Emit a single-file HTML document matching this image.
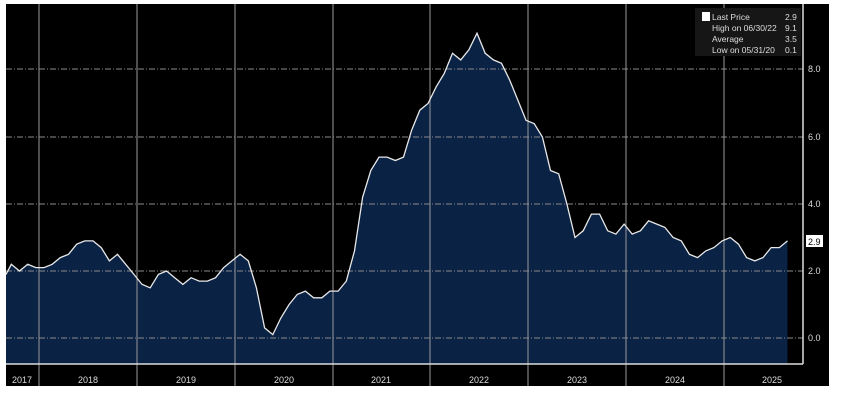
<!DOCTYPE html>
<html><head><meta charset="utf-8"><style>
body{margin:0;background:#fff;width:841px;height:409px;overflow:hidden;font-family:"Liberation Sans",sans-serif}
</style></head><body>
<svg id="s" width="841" height="409" xmlns="http://www.w3.org/2000/svg" style="display:block">
<rect x="6" y="4" width="823" height="382" fill="#000"/>
<g id="fill"></g>
<g stroke="#8a8a8a" stroke-width="1" stroke-dasharray="6,2,1,2">
<line x1="6" x2="803" y1="338" y2="338"/><line x1="6" x2="803" y1="271" y2="271"/>
<line x1="6" x2="803" y1="204" y2="204"/><line x1="6" x2="803" y1="137" y2="137"/>
<line x1="6" x2="803" y1="69" y2="69"/>
</g>
<g stroke="#9a9a9a" stroke-width="1">
<line x1="39" x2="39" y1="4" y2="386"/><line x1="137" x2="137" y1="4" y2="386"/>
<line x1="235" x2="235" y1="4" y2="386"/><line x1="333" x2="333" y1="4" y2="386"/>
<line x1="430" x2="430" y1="4" y2="386"/><line x1="528" x2="528" y1="4" y2="386"/>
<line x1="626" x2="626" y1="4" y2="386"/><line x1="724" x2="724" y1="4" y2="386"/>
</g>
<g id="line"></g>
<line x1="6" x2="803" y1="364" y2="364" stroke="#ddd" stroke-width="1.5"/>
<line x1="803" x2="803" y1="4" y2="364" stroke="#ddd" stroke-width="1.5"/>
<g fill="#ddd" font-size="9">
<text x="808" y="341">0.0</text><text x="808" y="274">2.0</text><text x="808" y="207">4.0</text>
<text x="808" y="140">6.0</text><text x="808" y="72">8.0</text>
</g>
<rect x="806" y="235" width="17" height="12" fill="#fff"/>
<text x="808" y="245" font-size="9" fill="#000">2.9</text>
<g fill="#ddd" font-size="9" text-anchor="middle">
<text x="22" y="383">2017</text><text x="88" y="383">2018</text><text x="186" y="383">2019</text>
<text x="284" y="383">2020</text><text x="381" y="383">2021</text><text x="479" y="383">2022</text>
<text x="577" y="383">2023</text><text x="675" y="383">2024</text><text x="772" y="383">2025</text>
</g>
<rect x="695" y="8" width="106" height="48" fill="#161616"/>
<rect x="702" y="12" width="8" height="9" fill="#fff"/>
<g fill="#ddd" font-size="8.5">
<text x="712" y="20">Last Price</text><text x="785" y="20">2.9</text>
<text x="712" y="31">High on 06/30/22</text><text x="785" y="31">9.1</text>
<text x="712" y="42">Average</text><text x="785" y="42">3.5</text>
<text x="712" y="53">Low on 05/31/20</text><text x="785" y="53">0.1</text>
</g>
</svg>
<script>
var d=[1.9,2.2,2.0,2.2,2.1,2.1,2.2,2.4,2.5,2.8,2.9,2.9,2.7,2.3,2.5,2.2,1.9,1.6,1.5,1.9,2.0,1.8,1.6,1.8,1.7,1.7,1.8,2.1,2.3,2.5,2.3,1.5,0.3,0.1,0.6,1.0,1.3,1.4,1.2,1.2,1.4,1.4,1.7,2.6,4.2,5.0,5.4,5.4,5.3,5.4,6.2,6.8,7.0,7.5,7.9,8.5,8.3,8.6,9.1,8.5,8.3,8.2,7.7,7.1,6.5,6.4,6.0,5.0,4.9,4.0,3.0,3.2,3.7,3.7,3.2,3.1,3.4,3.1,3.2,3.5,3.4,3.3,3.0,2.9,2.5,2.4,2.6,2.7,2.9,3.0,2.8,2.4,2.3,2.4,2.7,2.7,2.9];
var pts=d.map(function(v,i){var m=i-5;return [(44+m*8.17).toFixed(1),(338-v*33.5).toFixed(1)]});
pts[0][0]=6;
var p=pts.map(function(a){return a.join(",")}).join(" ");
var last=pts[pts.length-1][0];
document.getElementById("fill").innerHTML='<polygon points="6,364 '+p+' '+last+',364" fill="#0a2244"/>';
document.getElementById("line").innerHTML='<polyline points="'+p+'" fill="none" stroke="#e8e8e8" stroke-width="1.3"/>';
</script>
</body></html>
